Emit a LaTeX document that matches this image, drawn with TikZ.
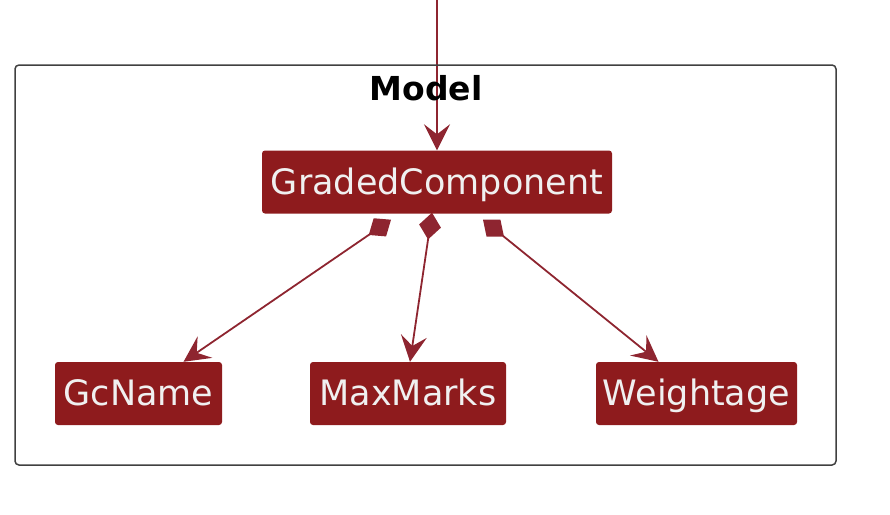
\documentclass[tikz,border=0pt]{standalone}
\usepackage{fontspec}
\setmainfont{DejaVu Sans}
\usetikzlibrary{arrows.meta,backgrounds}
\definecolor{umlred}{HTML}{8E1B1D}
\definecolor{umlline}{HTML}{8E2530}

\begin{document}
\begin{tikzpicture}[x=1pt,y=-1pt,
	cls/.style={fill=umlred,draw=none,rounded corners=3pt,text=white!94!black,inner sep=0,minimum height=63pt,text height=24pt,text depth=0pt,font=\fontsize{35}{40}\selectfont},
	link/.style={draw=umlline,line width=1.8pt,-{Stealth[length=26pt,width=26pt,inset=10pt]}},
	comp/.style={draw=umlline,line width=1.8pt,{Diamond[length=27pt,width=22pt]}-{Stealth[length=26pt,width=26pt,inset=10pt]}}]
	\useasboundingbox (0,0) rectangle (890,514);
	\node[draw=black!75,line width=1.5pt,rounded corners=4pt,minimum width=821pt,minimum height=400pt,inner sep=0] (model) at (425.5,265) {};
	\node[font=\bfseries\fontsize{33}{38}\selectfont] (title) at (426,88) {Model};
	\node[cls,minimum width=350pt] (gc) at (437,182) {GradedComponent};
	\node[cls,minimum width=167pt] (gcname) at (138.5,393.5) {GcName};
	\node[cls,minimum width=196pt] (maxmarks) at (408,393.5) {MaxMarks};
	\node[cls,minimum width=201pt] (weight) at (696.5,393.5) {Weightage};
	\coordinate (top) at (437,0);
	\begin{scope}[on background layer]
		\draw[link] (top) -- (gc.north);
		\draw[comp] ([xshift=-46pt,yshift=-6pt]gc.south) -- ([xshift=45pt]gcname.north);
		\draw[comp] ([xshift=-5pt,yshift=1pt]gc.south) -- ([xshift=2pt]maxmarks.north);
		\draw[comp] ([xshift=46pt,yshift=-6pt]gc.south) -- ([xshift=-38pt]weight.north);
	\end{scope}
\end{tikzpicture}
\end{document}
